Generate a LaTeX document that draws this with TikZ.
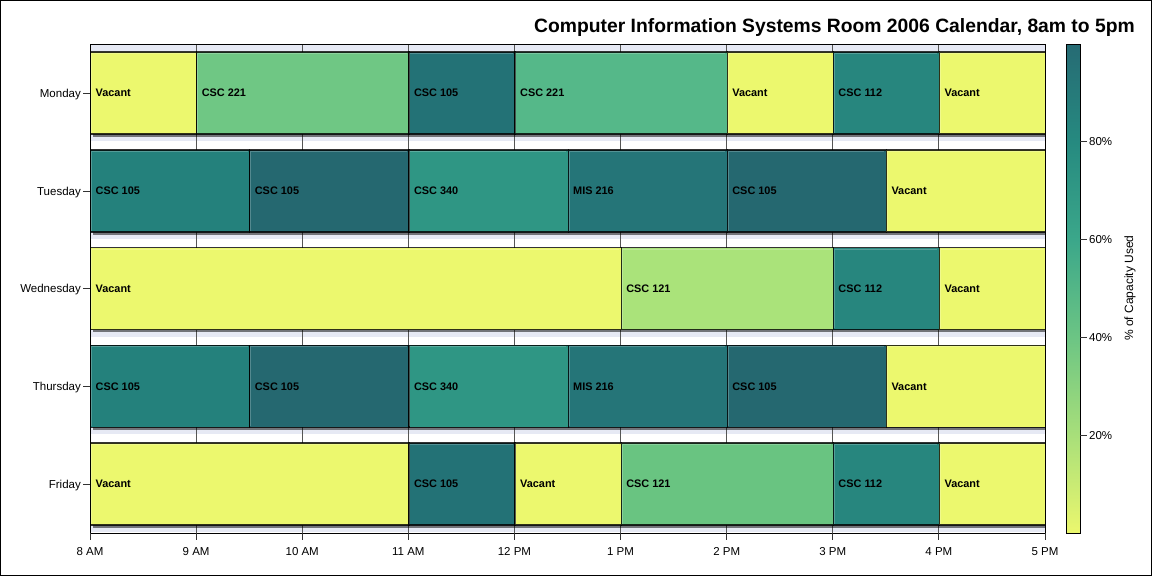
\documentclass[tikz,border=0pt]{standalone}
\usepackage{fontspec}
\setmainfont{Liberation Sans}
\definecolor{vac}{HTML}{ECF86E}
\definecolor{lav}{HTML}{E6E9F4}
\definecolor{cA}{HTML}{AAE37A}
\definecolor{cB}{HTML}{6FC784}
\definecolor{cC}{HTML}{55B889}
\definecolor{cD}{HTML}{27867E}
\definecolor{cE}{HTML}{237276}
\definecolor{cF}{HTML}{24817C}
\definecolor{cG}{HTML}{256870}
\definecolor{cH}{HTML}{2F9684}
\definecolor{cI}{HTML}{257578}
\definecolor{cJ}{HTML}{69C481}
\definecolor{grid}{HTML}{555555}
\definecolor{s0}{HTML}{EBF76E}
\definecolor{s20}{HTML}{A8DF7A}
\definecolor{s40}{HTML}{6CC584}
\definecolor{s60}{HTML}{3BA78A}
\definecolor{s80}{HTML}{268A80}
\definecolor{s100}{HTML}{266B74}
\newcommand\slot[6]{%
  \pgfmathsetmacro\slxa{90+(#3-8)*106.111}%
  \pgfmathsetmacro\slxb{90+(#4-8)*106.111}%
  \pgfmathsetmacro\slw{\slxb-\slxa}%
  \fill[black,opacity=.5] (\slxa+2.5,#2-38.5) rectangle (\slxb+2.5,#2+43.5);
  \node[slotbox,fill=#5,minimum width=\slw pt,anchor=west] (#1) at (\slxa,#2) {};
  \draw[white,opacity=.22,line width=1pt] (\slxa+1.5,#2+39.5) -- (\slxa+1.5,#2-39.5) -- (\slxb-1.5,#2-39.5);
  \node[slotlbl,anchor=west] (#1t) at ([xshift=5.5pt]#1.west) {#6};
}
\begin{document}
\begin{tikzpicture}[x=1pt,y=-1pt,
  slotbox/.style={draw=black,draw opacity=.8,line width=1.2pt,inner sep=0pt,minimum height=82pt},
  slotlbl/.style={font=\fontsize{10.9}{12}\selectfont\bfseries,inner sep=0pt},
  ticklbl/.style={font=\fontsize{11.5}{13}\selectfont,inner sep=0pt},
  tickline/.style={line width=1pt,black!80},
]
\useasboundingbox (0,0) rectangle (1152,576);
\fill[white] (0,0) rectangle (1152,576);
\draw[black,line width=1pt] (0.5,0.5) rectangle (1151.5,575.5);

\node[anchor=base east,inner sep=0pt,font=\fontsize{19.3}{22}\selectfont\bfseries] (title) at (1135,32) {Computer Information Systems Room 2006 Calendar, 8am to 5pm};

% plot background
\fill[white] (90,44) rectangle (1045,533);
\fill[lav] (90,44) rectangle (1045,51);
\foreach \c in {93,191,288.5,386.3,484}{
  \fill[lav] (90,\c+41) rectangle (1045,\c+48);
}
\foreach \i in {1,...,8}{
  \draw[grid,line width=1pt] (90+\i*106.111,44) -- (90+\i*106.111,533);
}

\begin{scope}
\clip (90,44) rectangle (1045,533);
% Monday
\slot{mo1}{93}{8}{9}{vac}{Vacant}
\slot{mo2}{93}{9}{11}{cB}{CSC 221}
\slot{mo3}{93}{11}{12}{cE}{CSC 105}
\slot{mo4}{93}{12}{14}{cC}{CSC 221}
\slot{mo5}{93}{14}{15}{vac}{Vacant}
\slot{mo6}{93}{15}{16}{cD}{CSC 112}
\slot{mo7}{93}{16}{17}{vac}{Vacant}
% Tuesday
\slot{tu1}{191}{8}{9.5}{cF}{CSC 105}
\slot{tu2}{191}{9.5}{11}{cG}{CSC 105}
\slot{tu3}{191}{11}{12.5}{cH}{CSC 340}
\slot{tu4}{191}{12.5}{14}{cI}{MIS 216}
\slot{tu5}{191}{14}{15.5}{cG}{CSC 105}
\slot{tu6}{191}{15.5}{17}{vac}{Vacant}
% Wednesday
\slot{we1}{288.5}{8}{13}{vac}{Vacant}
\slot{we2}{288.5}{13}{15}{cA}{CSC 121}
\slot{we3}{288.5}{15}{16}{cD}{CSC 112}
\slot{we4}{288.5}{16}{17}{vac}{Vacant}
% Thursday
\slot{th1}{386.3}{8}{9.5}{cF}{CSC 105}
\slot{th2}{386.3}{9.5}{11}{cG}{CSC 105}
\slot{th3}{386.3}{11}{12.5}{cH}{CSC 340}
\slot{th4}{386.3}{12.5}{14}{cI}{MIS 216}
\slot{th5}{386.3}{14}{15.5}{cG}{CSC 105}
\slot{th6}{386.3}{15.5}{17}{vac}{Vacant}
% Friday
\slot{fr1}{484}{8}{11}{vac}{Vacant}
\slot{fr2}{484}{11}{12}{cE}{CSC 105}
\slot{fr3}{484}{12}{13}{vac}{Vacant}
\slot{fr4}{484}{13}{15}{cJ}{CSC 121}
\slot{fr5}{484}{15}{16}{cD}{CSC 112}
\slot{fr6}{484}{16}{17}{vac}{Vacant}
\end{scope}

\draw[black,line width=1pt] (90,44) rectangle (1045,533);

% y axis
\foreach \c/\d in {93/Monday,191/Tuesday,288.5/Wednesday,386.3/Thursday,484/Friday}{
  \draw[tickline] (83,\c) -- (90,\c);
  \node[ticklbl,anchor=base east] (day\d) at (81,\c+4) {\d};
}
% x axis
\foreach \i/\t in {0/8 AM,1/9 AM,2/10 AM,3/11 AM,4/12 PM,5/1 PM,6/2 PM,7/3 PM,8/4 PM,9/5 PM}{
  \draw[tickline] (90+\i*106.111,533) -- (90+\i*106.111,540);
  \node[ticklbl,anchor=base] (hr\i) at (90+\i*106.111,555.5) {\t};
}

% colour bar
\shade[bottom color=s0,top color=s20] (1066,533) rectangle (1080,435.2);
\shade[bottom color=s20,top color=s40] (1066,435.2) rectangle (1080,337.4);
\shade[bottom color=s40,top color=s60] (1066,337.4) rectangle (1080,239.6);
\shade[bottom color=s60,top color=s80] (1066,239.6) rectangle (1080,141.8);
\shade[bottom color=s80,top color=s100] (1066,141.8) rectangle (1080,44);
\draw[black,line width=1pt] (1066,44) rectangle (1080,533);
\foreach \p in {20,40,60,80}{
  \draw[tickline] (1080,533-\p*4.89) -- (1087,533-\p*4.89);
  \node[ticklbl,anchor=base west] (cb\p) at (1089,533-\p*4.89+4) {\p\%};
}
\node[font=\fontsize{12}{14}\selectfont,rotate=90,inner sep=0pt] (cblabel) at (1130,288) {\% of Capacity Used};
\end{tikzpicture}
\end{document}
